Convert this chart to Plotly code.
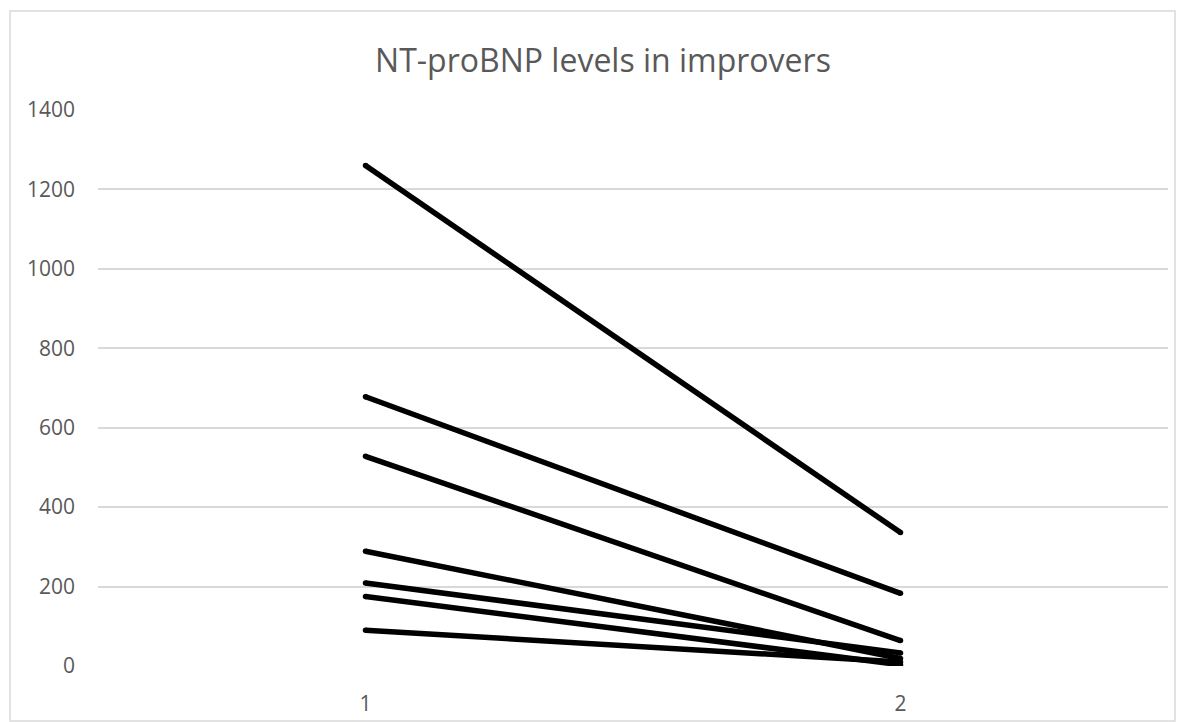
import plotly.graph_objects as go

categories = [1, 2]
series_start = [1260, 678, 528, 289, 209, 175, 90]
series_end = [336, 183, 64, 19, 33, 3, 10]
y_ticks = [0, 200, 400, 600, 800, 1000, 1200, 1400]
title_text = "NT-proBNP levels in improvers"

fig = go.Figure()
for s, e in zip(series_start, series_end):
    fig.add_trace(go.Scatter(
        x=categories, y=[s, e], mode="lines+markers",
        line=dict(color="black", width=5.5),
        marker=dict(color="black", size=5.5, line=dict(width=0)),
        showlegend=False, hoverinfo="skip"))

W, H = 1185, 722
L, R, T, B = 98, 17, 110, 56
pw, ph = W - L - R, H - T - B

fig.update_layout(
    width=W, height=H,
    margin=dict(l=L, r=R, t=T, b=B),
    paper_bgcolor="white", plot_bgcolor="white",
    title=dict(text=title_text, x=603 / W, xanchor="center", xref="container",
               y=1 - 61 / H, yanchor="middle",
               font=dict(family="Open Sans", size=32, color="#595959")),
    font=dict(family="Open Sans", color="#595959"),
    xaxis=dict(range=[0.5, 2.5], tickvals=categories, ticktext=[str(c) for c in categories],
               showgrid=False, zeroline=False, showline=False, ticks="", automargin=False,
               tickfont=dict(size=21, color="#595959"), ticklabelstandoff=23),
    yaxis=dict(range=[0, 1400], tickvals=y_ticks, showgrid=True, gridcolor="#d9d9d9",
               gridwidth=1.5, zeroline=False, showline=False, ticks="", automargin=False,
               tickfont=dict(size=21, color="#595959"), ticklabelstandoff=22),
    shapes=[dict(type="rect", xref="paper", yref="paper",
                 x0=(10 - L) / pw, x1=(1175 - L) / pw,
                 y0=(H - B - 721) / ph, y1=(H - B - 11) / ph,
                 line=dict(color="#d9d9d9", width=1.5), fillcolor="rgba(0,0,0,0)",
                 layer="below")],
)

fig.write_html("out.html", config={"displayModeBar": False},
               post_script="document.body.style.margin='0';")
